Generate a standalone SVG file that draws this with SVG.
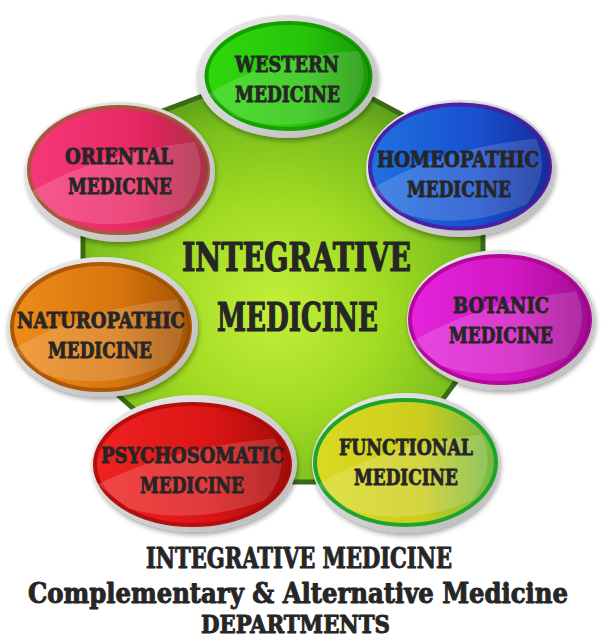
<svg xmlns="http://www.w3.org/2000/svg" width="603" height="640" viewBox="0 0 603 640">
<defs>
<style>
.lbl{font-family:"DejaVu Serif","Liberation Serif",serif;font-weight:bold;font-stretch:condensed;fill:#262626;stroke:#262626;stroke-linejoin:round;text-anchor:middle;}
.node{font-size:22px;stroke-width:0.8px;}
.center{font-size:40px;stroke-width:1.2px;}
.foot{font-size:27px;stroke-width:0.9px;}
.rim{fill:url(#gRim);filter:url(#sh);}
.gloss{fill:#ffffff;opacity:0.16;}
.shade{fill:url(#gShade);}
</style>
<filter id="sh" x="-20%" y="-20%" width="140%" height="140%">
<feGaussianBlur in="SourceAlpha" stdDeviation="2.5"/>
<feOffset dx="1" dy="3" result="b"/>
<feComponentTransfer in="b" result="c"><feFuncA type="linear" slope="0.35"/></feComponentTransfer>
<feMerge><feMergeNode in="c"/><feMergeNode in="SourceGraphic"/></feMerge>
</filter>
<linearGradient id="gRim" x1="0" y1="0" x2="1" y2="1">
<stop offset="0" stop-color="#ededed"/><stop offset="1" stop-color="#b9b9b9"/>
</linearGradient>
<linearGradient id="gShade" x1="0" y1="0" x2="1" y2="0">
<stop offset="0" stop-color="#000" stop-opacity="0"/><stop offset="0.6" stop-color="#000" stop-opacity="0"/><stop offset="1" stop-color="#000" stop-opacity="0.18"/>
</linearGradient>
<radialGradient id="gCenter" cx="0.48" cy="0.55" r="0.6">
<stop offset="0" stop-color="#c4ef3a"/><stop offset="0.45" stop-color="#a2dc22"/><stop offset="0.8" stop-color="#7cc01e"/><stop offset="1" stop-color="#5a9a18"/>
</radialGradient>
<linearGradient id="gWestern" x1="0" y1="0" x2="1" y2="0"><stop offset="0" stop-color="#2ed80c"/><stop offset="1" stop-color="#22b808"/></linearGradient>
<linearGradient id="gHomeo" x1="0" y1="0" x2="1" y2="0"><stop offset="0" stop-color="#1f72e2"/><stop offset="1" stop-color="#1438c0"/></linearGradient>
<linearGradient id="gBotanic" x1="0" y1="0" x2="1" y2="0"><stop offset="0" stop-color="#e424dc"/><stop offset="1" stop-color="#c40eb0"/></linearGradient>
<linearGradient id="gFunctional" x1="0" y1="0" x2="1" y2="0"><stop offset="0" stop-color="#dada22"/><stop offset="0.6" stop-color="#cccc1e"/><stop offset="1" stop-color="#72b848"/></linearGradient>
<linearGradient id="gPsycho" x1="0" y1="0" x2="1" y2="0"><stop offset="0" stop-color="#f02222"/><stop offset="1" stop-color="#cc0c0c"/></linearGradient>
<linearGradient id="gNaturo" x1="0" y1="0" x2="1" y2="0"><stop offset="0" stop-color="#ee8c1a"/><stop offset="1" stop-color="#c86606"/></linearGradient>
<linearGradient id="gOriental" x1="0" y1="0" x2="1" y2="0"><stop offset="0" stop-color="#f6387a"/><stop offset="0.7" stop-color="#e4265e"/><stop offset="1" stop-color="#d03a56"/></linearGradient>
</defs>
<rect width="603" height="640" fill="#ffffff"/>

<g id="hub">
<polygon points="205,95 365,95 440,135 483,205 483,345 420,430 366,482 216,482 83,364 83,205 125,125" fill="url(#gCenter)" stroke="#3b6a16" stroke-width="5" stroke-linejoin="round"/>
<text class="lbl center" x="296.5" y="271" textLength="229" lengthAdjust="spacingAndGlyphs">INTEGRATIVE</text>
<text class="lbl center" x="297.5" y="331" textLength="161" lengthAdjust="spacingAndGlyphs">MEDICINE</text>
</g>

<g id="connectors"></g>

<g id="western" transform="translate(288.5,76)">
<ellipse class="rim" cx="-1" cy="0.5" rx="90.5" ry="61.5"/>
<ellipse rx="82" ry="53" fill="url(#gWestern)" stroke="#14a000" stroke-width="4"/>
<path class="gloss" d="M-80,18 Q-20,-20 70,-25 Q84,5 60,35 Q0,60 -55,40 Z"/>
<ellipse class="shade" rx="82" ry="53"/>
<text class="lbl node" x="-1.5" y="-4" textLength="104" lengthAdjust="spacingAndGlyphs">WESTERN</text>
<text class="lbl node" x="-1" y="26" textLength="105" lengthAdjust="spacingAndGlyphs">MEDICINE</text>
</g>

<g id="homeopathic" transform="translate(460,166.5)">
<ellipse class="rim" cx="0.5" cy="2" rx="94.5" ry="68.5"/>
<ellipse rx="90" ry="62" fill="url(#gHomeo)" stroke="#4b22a6" stroke-width="4"/>
<path class="gloss" d="M-88,22 Q-20,-18 76,-28 Q92,5 66,38 Q0,66 -60,46 Z"/>
<ellipse class="shade" rx="90" ry="62"/>
<text class="lbl node" x="-2" y="0.5" textLength="162" lengthAdjust="spacingAndGlyphs">HOMEOPATHIC</text>
<text class="lbl node" x="-1" y="30.5" textLength="104" lengthAdjust="spacingAndGlyphs">MEDICINE</text>
</g>

<g id="botanic" transform="translate(500,319.5)">
<ellipse class="rim" cx="1" cy="0.5" rx="94" ry="70"/>
<ellipse rx="90" ry="63.5" fill="url(#gBotanic)" stroke="#b4089a" stroke-width="4"/>
<path class="gloss" d="M-88,22 Q-20,-18 76,-28 Q92,5 66,38 Q0,66 -60,46 Z"/>
<ellipse class="shade" rx="90" ry="63.5"/>
<text class="lbl node" x="1" y="-6.5" textLength="96" lengthAdjust="spacingAndGlyphs">BOTANIC</text>
<text class="lbl node" x="1" y="23.5" textLength="104" lengthAdjust="spacingAndGlyphs">MEDICINE</text>
</g>

<g id="functional" transform="translate(405.5,462.5)">
<ellipse class="rim" cx="0.5" cy="0.5" rx="94" ry="70"/>
<ellipse rx="90.5" ry="62.5" fill="url(#gFunctional)" stroke="#1ea42c" stroke-width="4"/>
<path class="gloss" d="M-88,22 Q-20,-18 76,-28 Q92,5 66,38 Q0,66 -60,46 Z"/>
<text class="lbl node" x="0.5" y="-7.5" textLength="134" lengthAdjust="spacingAndGlyphs">FUNCTIONAL</text>
<text class="lbl node" x="0.5" y="22.5" textLength="104" lengthAdjust="spacingAndGlyphs">MEDICINE</text>
</g>

<g id="psychosomatic" transform="translate(192.5,464.5)">
<ellipse class="rim" cx="2" cy="-1" rx="102.5" ry="68.5"/>
<ellipse rx="97.5" ry="60.5" fill="url(#gPsycho)" stroke="#b40e0e" stroke-width="4"/>
<path class="gloss" d="M-95,20 Q-20,-18 82,-26 Q100,5 72,36 Q0,62 -64,44 Z"/>
<ellipse class="shade" rx="97.5" ry="60.5"/>
<text class="lbl node" x="0" y="-1.5" textLength="183" lengthAdjust="spacingAndGlyphs">PSYCHOSOMATIC</text>
<text class="lbl node" x="-0.5" y="28.5" textLength="104" lengthAdjust="spacingAndGlyphs">MEDICINE</text>
</g>

<g id="naturopathic" transform="translate(101,327)">
<ellipse class="rim" cx="1.5" cy="0" rx="95.5" ry="70"/>
<ellipse rx="89" ry="63" fill="url(#gNaturo)" stroke="#ac5806" stroke-width="4"/>
<path class="gloss" d="M-88,22 Q-20,-18 76,-28 Q92,5 66,38 Q0,66 -60,46 Z"/>
<ellipse class="shade" rx="89" ry="63"/>
<text class="lbl node" x="0" y="1" textLength="168" lengthAdjust="spacingAndGlyphs">NATUROPATHIC</text>
<text class="lbl node" x="-1" y="31" textLength="104" lengthAdjust="spacingAndGlyphs">MEDICINE</text>
</g>

<g id="oriental" transform="translate(118.5,170)">
<ellipse class="rim" cx="1.5" cy="2" rx="95" ry="70"/>
<ellipse rx="89.5" ry="63" fill="url(#gOriental)" stroke="#ac5440" stroke-width="4"/>
<path class="gloss" d="M-88,22 Q-20,-18 76,-28 Q92,5 66,38 Q0,66 -60,46 Z"/>
<ellipse class="shade" rx="89.5" ry="63"/>
<text class="lbl node" x="0.5" y="-6" textLength="108" lengthAdjust="spacingAndGlyphs">ORIENTAL</text>
<text class="lbl node" x="1.5" y="24" textLength="104" lengthAdjust="spacingAndGlyphs">MEDICINE</text>
</g>

<g id="caption">
<text class="lbl foot" x="299" y="568" textLength="306" lengthAdjust="spacingAndGlyphs">INTEGRATIVE MEDICINE</text>
<text class="lbl foot" x="298" y="603" textLength="540" lengthAdjust="spacingAndGlyphs">Complementary &amp; Alternative Medicine</text>
<text class="lbl foot" x="295.5" y="633" style="font-size:24px" textLength="189" lengthAdjust="spacingAndGlyphs">DEPARTMENTS</text>
</g>
</svg>
